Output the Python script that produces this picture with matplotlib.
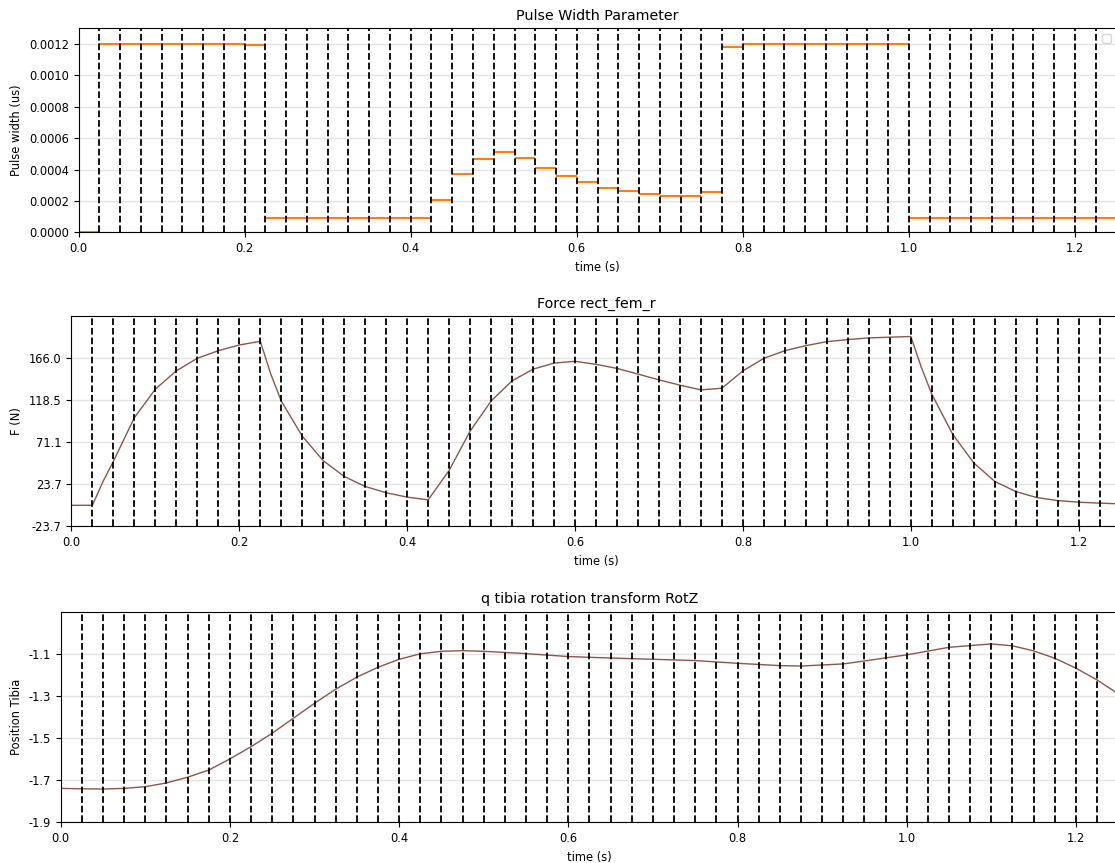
import matplotlib
matplotlib.use('Agg')
import matplotlib.pyplot as plt
import numpy as np

# stimulation phases, 0.025 s each
phase_dt = 0.025
pulse_width = [0.0, 0.0012, 0.0012, 0.0012, 0.0012, 0.0012, 0.0012, 0.0012, 0.001193,
               0.00009, 0.00009, 0.00009, 0.00009, 0.00009, 0.00009, 0.00009, 0.00009,
               0.000203, 0.00037, 0.000467, 0.000512, 0.000473, 0.00041, 0.000358,
               0.000318, 0.000284, 0.000263, 0.000243, 0.00023, 0.00023, 0.000256,
               0.001183, 0.001197, 0.0012, 0.0012, 0.0012, 0.0012, 0.0012, 0.0012, 0.0012,
               0.00009, 0.00009, 0.00009, 0.00009, 0.00009, 0.00009, 0.00009, 0.00009,
               0.00009, 0.00009]

force_t = [0, 0.025, 0.0375, 0.05, 0.075, 0.1, 0.125, 0.15, 0.175, 0.2, 0.225, 0.2375,
           0.25, 0.275, 0.3, 0.325, 0.35, 0.375, 0.4, 0.425, 0.45, 0.475, 0.5, 0.525,
           0.55, 0.575, 0.6, 0.625, 0.65, 0.675, 0.7, 0.725, 0.75, 0.775, 0.8, 0.825,
           0.85, 0.875, 0.9, 0.925, 0.95, 0.975, 1.0, 1.0125, 1.025, 1.05, 1.075, 1.1,
           1.125, 1.15, 1.175, 1.2, 1.225, 1.25]
force_n = [0.0, 0.0, 26.5, 49.6, 98.8, 130.9, 151.6, 165.7, 174.3, 180.7, 184.9, 148.0,
           117.6, 77.9, 50.3, 32.5, 21.2, 14.1, 9.2, 6.1, 39.3, 83.6, 117.6, 140.3,
           153.5, 160.3, 162.3, 158.9, 154.3, 147.9, 141.4, 135.4, 130.1, 132.0, 151.6,
           165.7, 174.3, 180.0, 184.5, 186.8, 188.7, 189.5, 190.3, 155.5, 125.2, 79.8,
           47.7, 26.9, 15.5, 8.7, 5.3, 3.5, 2.4, 1.6]
force_ticks = [-23.7, 23.7, 71.1, 118.5, 166.0]

tibia_t = [0, 0.025, 0.05, 0.075, 0.1, 0.125, 0.15, 0.175, 0.2, 0.225, 0.25, 0.275, 0.3,
           0.325, 0.35, 0.375, 0.4, 0.425, 0.45, 0.475, 0.5, 0.55, 0.6, 0.65, 0.7, 0.75,
           0.8, 0.85, 0.875, 0.925, 0.95, 1.0, 1.05, 1.1, 1.125, 1.15, 1.175, 1.2,
           1.225, 1.25]
tibia_q = [-1.739, -1.741, -1.742, -1.739, -1.731, -1.713, -1.686, -1.652, -1.599, -1.541,
           -1.477, -1.406, -1.335, -1.268, -1.211, -1.164, -1.126, -1.100, -1.088, -1.085,
           -1.088, -1.099, -1.113, -1.120, -1.126, -1.132, -1.145, -1.156, -1.158, -1.148,
           -1.134, -1.105, -1.069, -1.053, -1.062, -1.086, -1.121, -1.168, -1.224, -1.290]
tibia_ticks = [-1.9, -1.7, -1.5, -1.3, -1.1]

plt.rcParams['font.size'] = 8.3
plt.rcParams['axes.titlesize'] = 10.3
plt.rcParams['axes.labelsize'] = 8.3

W, H = 1115, 863
fig = plt.figure(figsize=(W / 100, H / 100), dpi=100)


def add_axes_px(left, right, top, bottom):
    return fig.add_axes([left / W, (H - bottom) / H, (right - left) / W, (bottom - top) / H])


phase_start = [i * phase_dt for i in range(len(pulse_width))]
phase_end = [(i + 1) * phase_dt for i in range(len(pulse_width))]
pulse_times = phase_end


def stim_lines(ax):
    for t in pulse_times:
        ax.axvline(t, color='k', linestyle='--', linewidth=1.3)


def style(ax):
    ax.set_xlim(0, 1.25)
    ax.set_xlabel('time (s)')
    ax.grid(axis='y', color='#b0b0b0', alpha=0.35, linewidth=1.0)
    ax.set_axisbelow(True)


# Pulse width
ax = add_axes_px(78.6, 1116.5, 28.3, 232.3)
ax.hlines(pulse_width, phase_start, phase_end, color='tab:orange', linewidth=1.5)
stim_lines(ax)
style(ax)
ax.set_ylim(0, 0.0013)
ax.set_ylabel('Pulse width (us)')
ax.set_title('Pulse Width Parameter')
ax.legend(loc='upper right')

# Force
ax = add_axes_px(71.4, 1120.7, 316, 526.3)
ax.plot(force_t, force_n, color='tab:brown', linewidth=1.0)
stim_lines(ax)
style(ax)
ax.set_ylim(-23.7, 213.4)
ax.set_yticks(force_ticks)
ax.set_yticklabels([f'{v:.1f}' for v in force_ticks])
ax.set_ylabel('F (N)')
ax.set_title('Force rect_fem_r')

# Tibia position
ax = add_axes_px(60.7, 1118.2, 611.7, 822.3)
ax.plot(tibia_t, tibia_q, color='tab:brown', linewidth=1.0)
stim_lines(ax)
style(ax)
ax.set_ylim(-1.9, -0.9)
ax.set_yticks(tibia_ticks)
ax.set_yticklabels([f'{v:.1f}' for v in tibia_ticks])
ax.set_ylabel('Position Tibia')
ax.set_title('q tibia rotation transform RotZ')

fig.savefig('out.png', dpi=100)
